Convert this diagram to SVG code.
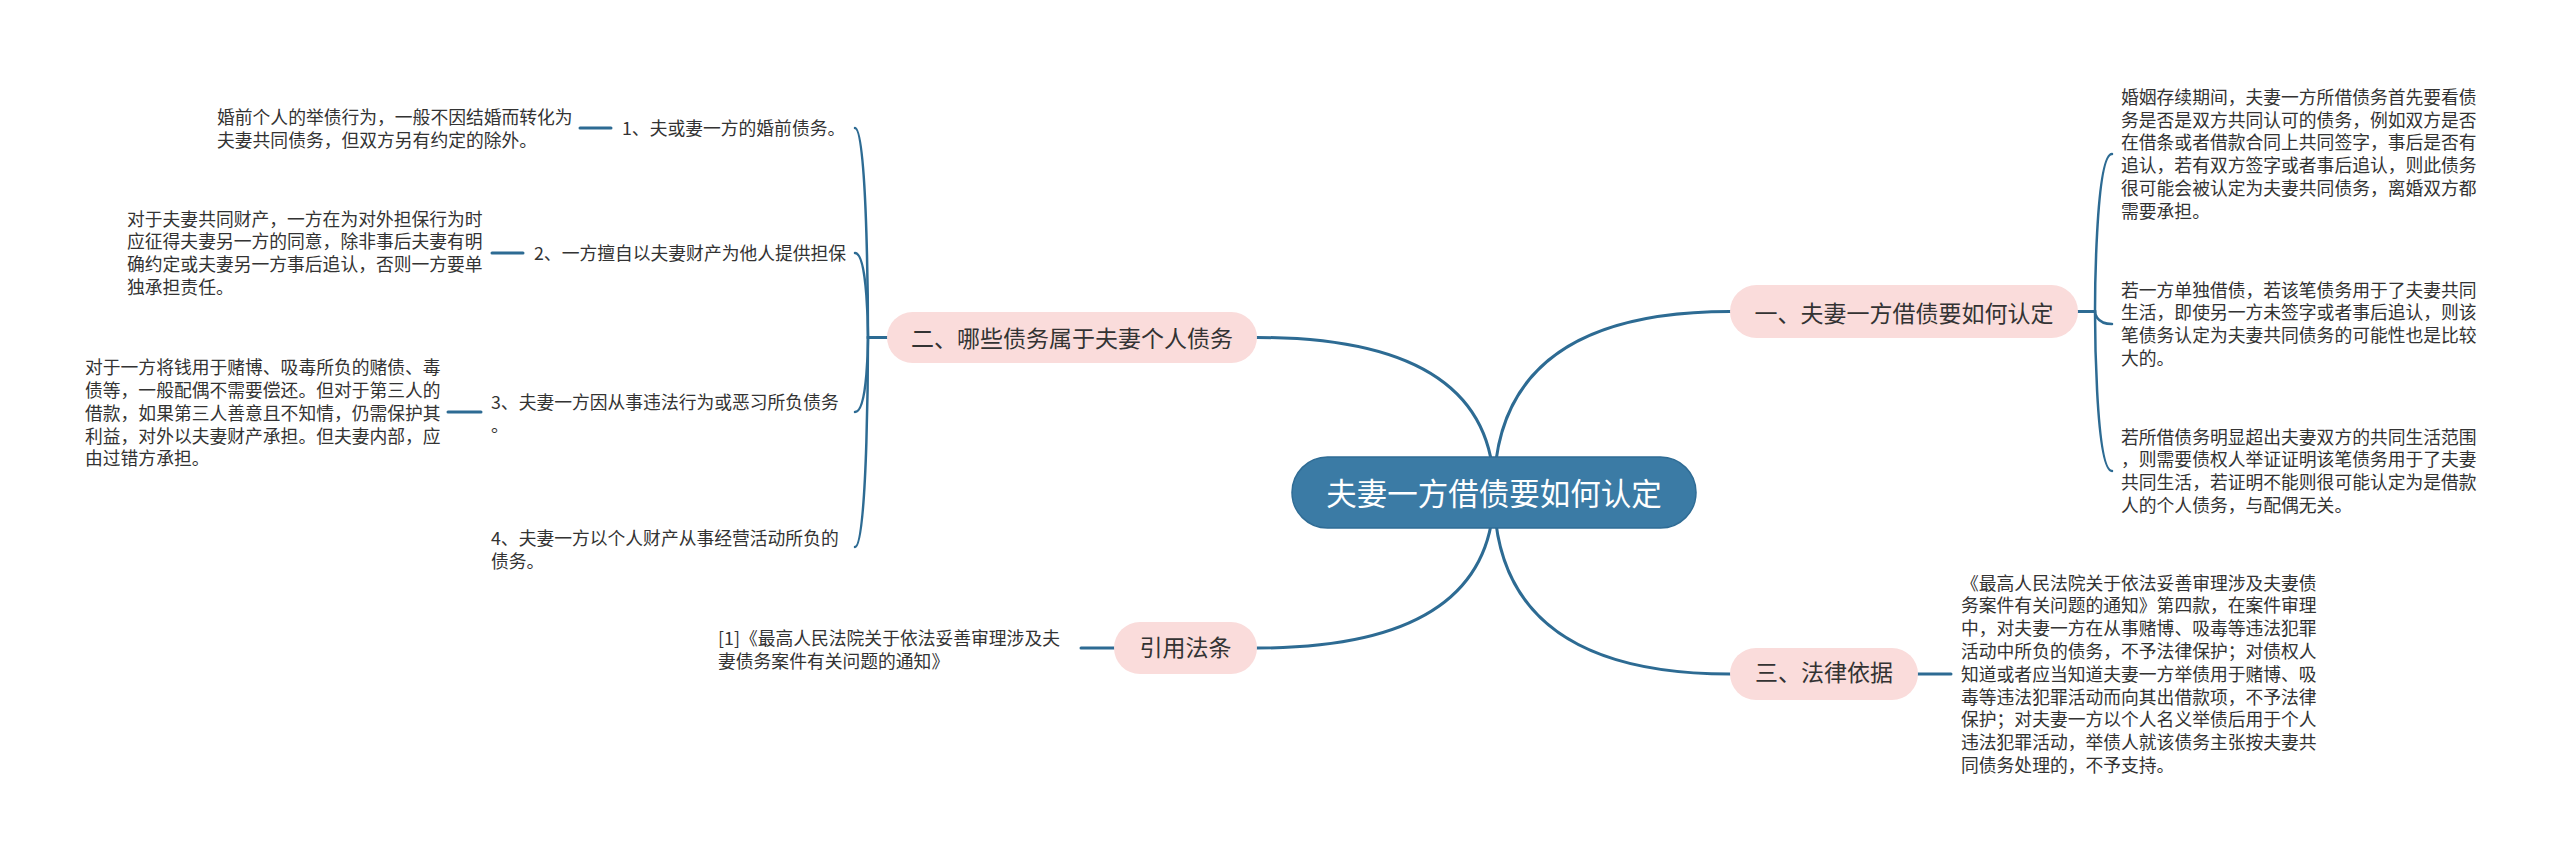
<svg xmlns="http://www.w3.org/2000/svg" width="2560" height="861" viewBox="0 0 2560 861">
<style>
  text { font-family: "Noto Sans CJK SC", "Noto Sans", sans-serif; }
  .leaf { font-size: 17.8px; fill: #333333; }
  .l1 { fill: #fadcdb; }
  .l1t { fill: #333333; text-anchor: middle; font-size: 23px; }
  .root { fill: #3b7ba5; stroke: #2f6c95; stroke-width: 1.5; }
  .roott { fill: #ffffff; font-size: 30.5px; text-anchor: middle; }
  .c { fill: none; stroke: #2d6b93; stroke-width: 3; stroke-linecap: round; }
  .b { fill: none; stroke: #2d6b93; stroke-width: 2.5; stroke-linecap: round; }
</style>
<rect width="2560" height="861" fill="#ffffff"/>
<g id="connectors">
  <path class="c" d="M1494,492 Q1494,337.5 1257,337.5"/>
  <path class="c" d="M1494,492 Q1494,311.5 1730,311.5"/>
  <path class="c" d="M1494,492 Q1494,648 1257,648"/>
  <path class="c" d="M1494,492 Q1494,674 1730,674"/>
  <path class="b" d="M887,337.5 H868 C868,337.5 868,128 855,128"/>
  <path class="b" d="M887,337.5 H868 C868,337.5 868,253 855,253"/>
  <path class="b" d="M887,337.5 H868 C868,337.5 868,412 855,412"/>
  <path class="b" d="M887,337.5 H868 C868,337.5 868,547 855,547"/>
  <path class="b" d="M2078,311.5 H2095 C2095,311.5 2095,154 2112,154"/>
  <path class="b" d="M2078,311.5 H2095 C2095,311.5 2095,324 2112,324"/>
  <path class="b" d="M2078,311.5 H2095 C2095,311.5 2095,471 2112,471"/>
  <path class="c" d="M1114,648 H1081"/>
  <path class="c" d="M1918,674 H1951"/>
  <path class="c" d="M611,128 H580"/>
  <path class="c" d="M523,253 H492"/>
  <path class="c" d="M481,412 H448"/>
</g>
<g id="root">
  <rect class="root" x="1292" y="457" width="404" height="71" rx="35.5"/>
  <text class="roott" x="1494" y="505">夫妻一方借债要如何认定</text>
</g>
<g id="n2">
  <rect class="l1" x="887" y="312" width="370" height="51" rx="25.5"/>
  <text class="l1t" x="1072" y="347">二、哪些债务属于夫妻个人债务</text>
</g>
<g id="n1">
  <rect class="l1" x="1730" y="285" width="348" height="53" rx="26.5"/>
  <text class="l1t" x="1904" y="321.6">一、夫妻一方借债要如何认定</text>
</g>
<g id="n3">
  <rect class="l1" x="1730" y="648" width="188" height="52" rx="26"/>
  <text class="l1t" x="1824" y="681.1">三、法律依据</text>
</g>
<g id="nref">
  <rect class="l1" x="1114" y="622" width="143" height="52" rx="26"/>
  <text class="l1t" x="1185.5" y="656.1">引用法条</text>
</g>
<g id="s1">
  <text class="leaf" x="622" y="134.7">1、夫或妻一方的婚前债务。</text>
</g>
<g id="s1leaf">
  <text class="leaf"><tspan x="217" y="124.3">婚前个人的举债行为，一般不因结婚而转化为</tspan><tspan x="217" y="147.1">夫妻共同债务，但双方另有约定的除外。</tspan></text>
</g>
<g id="s2">
  <text class="leaf" x="534" y="259.7">2、一方擅自以夫妻财产为他人提供担保</text>
</g>
<g id="s2leaf">
  <text class="leaf"><tspan x="127" y="225.5">对于夫妻共同财产，一方在为对外担保行为时</tspan><tspan x="127" y="248.3">应征得夫妻另一方的同意，除非事后夫妻有明</tspan><tspan x="127" y="271.1">确约定或夫妻另一方事后追认，否则一方要单</tspan><tspan x="127" y="293.9">独承担责任。</tspan></text>
</g>
<g id="s3">
  <text class="leaf"><tspan x="491" y="408.8">3、夫妻一方因从事违法行为或恶习所负债务</tspan><tspan x="491" y="431.6">。</tspan></text>
</g>
<g id="s3leaf">
  <text class="leaf"><tspan x="85" y="374.1">对于一方将钱用于赌博、吸毒所负的赌债、毒</tspan><tspan x="85" y="396.9">债等，一般配偶不需要偿还。但对于第三人的</tspan><tspan x="85" y="419.7">借款，如果第三人善意且不知情，仍需保护其</tspan><tspan x="85" y="442.5">利益，对外以夫妻财产承担。但夫妻内部，应</tspan><tspan x="85" y="465.3">由过错方承担。</tspan></text>
</g>
<g id="s4">
  <text class="leaf"><tspan x="491" y="544.8">4、夫妻一方以个人财产从事经营活动所负的</tspan><tspan x="491" y="567.6">债务。</tspan></text>
</g>
<g id="refleaf">
  <text class="leaf"><tspan x="718" y="644.8">[1]《最高人民法院关于依法妥善审理涉及夫</tspan><tspan x="718" y="667.6">妻债务案件有关问题的通知》</tspan></text>
</g>
<g id="r1">
  <text class="leaf"><tspan x="2121" y="103.7">婚姻存续期间，夫妻一方所借债务首先要看债</tspan><tspan x="2121" y="126.5">务是否是双方共同认可的债务，例如双方是否</tspan><tspan x="2121" y="149.3">在借条或者借款合同上共同签字，事后是否有</tspan><tspan x="2121" y="172.1">追认，若有双方签字或者事后追认，则此债务</tspan><tspan x="2121" y="194.9">很可能会被认定为夫妻共同债务，离婚双方都</tspan><tspan x="2121" y="217.7">需要承担。</tspan></text>
</g>
<g id="r2">
  <text class="leaf"><tspan x="2121" y="296.5">若一方单独借债，若该笔债务用于了夫妻共同</tspan><tspan x="2121" y="319.3">生活，即使另一方未签字或者事后追认，则该</tspan><tspan x="2121" y="342.1">笔债务认定为夫妻共同债务的可能性也是比较</tspan><tspan x="2121" y="364.9">大的。</tspan></text>
</g>
<g id="r3">
  <text class="leaf"><tspan x="2121" y="443.5">若所借债务明显超出夫妻双方的共同生活范围</tspan><tspan x="2121" y="466.3">，则需要债权人举证证明该笔债务用于了夫妻</tspan><tspan x="2121" y="489.1">共同生活，若证明不能则很可能认定为是借款</tspan><tspan x="2121" y="511.9">人的个人债务，与配偶无关。</tspan></text>
</g>
<g id="law">
  <text class="leaf"><tspan x="1961" y="589.5">《最高人民法院关于依法妥善审理涉及夫妻债</tspan><tspan x="1961" y="612.3">务案件有关问题的通知》第四款，在案件审理</tspan><tspan x="1961" y="635.1">中，对夫妻一方在从事赌博、吸毒等违法犯罪</tspan><tspan x="1961" y="657.9">活动中所负的债务，不予法律保护；对债权人</tspan><tspan x="1961" y="680.7">知道或者应当知道夫妻一方举债用于赌博、吸</tspan><tspan x="1961" y="703.5">毒等违法犯罪活动而向其出借款项，不予法律</tspan><tspan x="1961" y="726.3">保护；对夫妻一方以个人名义举债后用于个人</tspan><tspan x="1961" y="749.1">违法犯罪活动，举债人就该债务主张按夫妻共</tspan><tspan x="1961" y="771.9">同债务处理的，不予支持。</tspan></text>
</g>
</svg>
